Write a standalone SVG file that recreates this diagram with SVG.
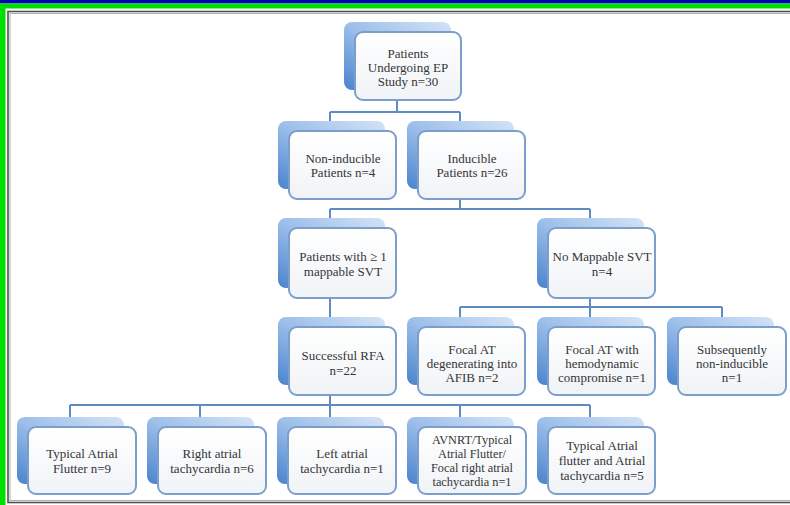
<svg xmlns="http://www.w3.org/2000/svg" width="790" height="505" viewBox="0 0 790 505">
<defs>
<linearGradient id="gBack" x1="1" y1="0" x2="0" y2="1">
<stop offset="0" stop-color="#d4e3f6"/>
<stop offset="0.5" stop-color="#9dbfea"/>
<stop offset="1" stop-color="#4a83cd"/>
</linearGradient>
<linearGradient id="gFront" x1="0" y1="0" x2="0" y2="1">
<stop offset="0" stop-color="#ffffff"/>
<stop offset="1" stop-color="#f0f3f7"/>
</linearGradient>
</defs>
<style>
.back{fill:url(#gBack);stroke:none}
.front{fill:url(#gFront);stroke:#7c9ecb;stroke-width:2}
.t{font-family:"Liberation Serif","Times New Roman",serif;font-size:13px;fill:#353535;text-anchor:middle}
.s{font-size:12.3px}
.conn{fill:none;stroke:#5f8bc3;stroke-width:2}
</style>
<rect x="0" y="0" width="790" height="505" fill="#ffffff"/>
<rect x="0" y="0" width="790" height="3.5" fill="#0000bd"/>
<rect x="0" y="3.5" width="790" height="5" fill="#00e000"/>
<rect x="0" y="3.5" width="5.5" height="501.5" fill="#00e000"/>
<rect x="8" y="11.5" width="800" height="491" fill="none" stroke="#505050" stroke-width="1.6"/>
<rect x="10" y="13.5" width="800" height="487" fill="none" stroke="#b0b0b0" stroke-width="1"/>

<g id="connectors">
<path class="conn" d="M397 100 V112 M330 112 H460 M330 112 V121 M460 112 V121"/>
<path class="conn" d="M460 199 V209 M330 209 H590 M330 209 V218 M590 209 V218"/>
<path class="conn" d="M330 298 V317"/>
<path class="conn" d="M590 298 V307 M460 307 H722 M460 307 V317 M590 307 V317 M722 307 V317"/>
<path class="conn" d="M330 395 V405 M70 405 H590 M70 405 V417 M200 405 V417 M330 405 V417 M460 405 V417 M590 405 V417"/>
</g>

<g id="n-top">
<rect class="back" x="344" y="22" width="107" height="68" rx="8"/>
<rect class="front" x="355" y="32" width="106" height="68" rx="8"/>
<text class="t" x="408" y="58">Patients</text>
<text class="t" x="408" y="72">Undergoing EP</text>
<text class="t" x="408" y="86">Study n=30</text>
</g>

<g id="n-noninducible">
<rect class="back" x="278" y="121" width="107" height="68" rx="8"/>
<rect class="front" x="289" y="131" width="107" height="68" rx="8"/>
<text class="t" x="343" y="163">Non-inducible</text>
<text class="t" x="343" y="177">Patients n=4</text>
</g>

<g id="n-inducible">
<rect class="back" x="407" y="121" width="107" height="68" rx="8"/>
<rect class="front" x="418" y="131" width="107" height="68" rx="8"/>
<text class="t" x="472" y="163">Inducible</text>
<text class="t" x="472" y="177">Patients n=26</text>
</g>

<g id="n-mappable">
<rect class="back" x="278" y="218" width="107" height="70" rx="8"/>
<rect class="front" x="289" y="228" width="107" height="70" rx="8"/>
<text class="t" x="343" y="261">Patients with  ≥ 1</text>
<text class="t" x="343" y="276">mappable SVT</text>
</g>

<g id="n-nomappable">
<rect class="back" x="537" y="218" width="107" height="70" rx="8"/>
<rect class="front" x="548" y="228" width="107" height="70" rx="8"/>
<text class="t" x="602" y="261">No Mappable SVT</text>
<text class="t" x="602" y="276">n=4</text>
</g>

<g id="n-rfa">
<rect class="back" x="278" y="317" width="107" height="68" rx="8"/>
<rect class="front" x="289" y="327" width="107" height="68" rx="8"/>
<text class="t" x="343" y="360">Successful RFA</text>
<text class="t" x="343" y="375">n=22</text>
</g>

<g id="n-focal-afib">
<rect class="back" x="407" y="317" width="107" height="68" rx="8"/>
<rect class="front" x="418" y="327" width="107" height="68" rx="8"/>
<text class="t" x="472" y="354">Focal AT</text>
<text class="t" x="472" y="368">degenerating into</text>
<text class="t" x="472" y="382">AFIB n=2</text>
</g>

<g id="n-focal-hemo">
<rect class="back" x="537" y="317" width="107" height="68" rx="8"/>
<rect class="front" x="548" y="327" width="107" height="68" rx="8"/>
<text class="t" x="602" y="354">Focal AT with</text>
<text class="t" x="602" y="368">hemodynamic</text>
<text class="t" x="602" y="382">compromise n=1</text>
</g>

<g id="n-subsequently">
<rect class="back" x="667" y="317" width="107" height="68" rx="8"/>
<rect class="front" x="678" y="327" width="108" height="68" rx="8"/>
<text class="t" x="732" y="354">Subsequently</text>
<text class="t" x="732" y="368">non-inducible</text>
<text class="t" x="732" y="382">n=1</text>
</g>

<g id="n-flutter">
<rect class="back" x="17" y="417" width="107" height="67" rx="8"/>
<rect class="front" x="28" y="427" width="108" height="67" rx="8"/>
<text class="t" x="82" y="458">Typical Atrial</text>
<text class="t" x="82" y="473">Flutter n=9</text>
</g>

<g id="n-right">
<rect class="back" x="147" y="417" width="107" height="67" rx="8"/>
<rect class="front" x="158" y="427" width="108" height="67" rx="8"/>
<text class="t" x="212" y="458">Right atrial</text>
<text class="t" x="212" y="473">tachycardia n=6</text>
</g>

<g id="n-left">
<rect class="back" x="277" y="417" width="107" height="67" rx="8"/>
<rect class="front" x="288" y="427" width="108" height="67" rx="8"/>
<text class="t" x="342" y="458">Left atrial</text>
<text class="t" x="342" y="473">tachycardia n=1</text>
</g>

<g id="n-avnrt">
<rect class="back" x="407" y="417" width="107" height="67" rx="8"/>
<rect class="front" x="418" y="427" width="108" height="67" rx="8"/>
<text class="t s" x="472" y="444">AVNRT/Typical</text>
<text class="t s" x="472" y="458">Atrial Flutter/</text>
<text class="t s" x="472" y="472">Focal right atrial</text>
<text class="t s" x="472" y="486">tachycardia n=1</text>
</g>

<g id="n-combined">
<rect class="back" x="537" y="417" width="107" height="67" rx="8"/>
<rect class="front" x="548" y="427" width="107" height="67" rx="8"/>
<text class="t" x="602" y="450">Typical Atrial</text>
<text class="t" x="602" y="465">flutter and Atrial</text>
<text class="t" x="602" y="480">tachycardia n=5</text>
</g>
</svg>
